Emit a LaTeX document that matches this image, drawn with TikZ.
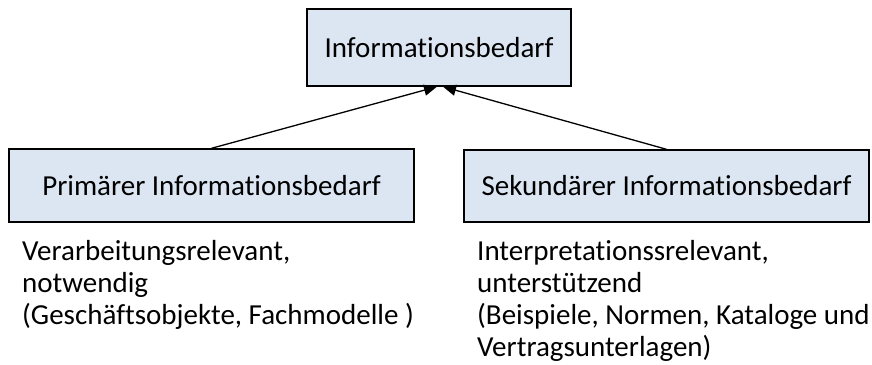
\documentclass[tikz,border=0pt]{standalone}
\usepackage{fontspec}
\setmainfont{Carlito}[Ligatures=NoCommon]
\usetikzlibrary{arrows.meta}
\definecolor{boxfill}{HTML}{DCE6F2}
\tikzset{
  x=1pt, y=-1pt,
  infobox/.style={draw=black, fill=boxfill, line width=1.4pt, rectangle,
    inner sep=0pt, font=\fontsize{29}{32}\selectfont},
  % base anchor of a multi-line note sits on its last line
  note/.style={anchor=base west, align=left, inner sep=0pt,
    font=\fontsize{29}{32}\selectfont},
  link/.style={line width=1.3pt, -{Triangle[length=13pt,width=11pt]}}
}
\begin{document}
\begin{tikzpicture}
\useasboundingbox (0,0) rectangle (872,364);
\node[infobox, minimum width=264pt, minimum height=77pt] (top) at (439,47.5) {Informationsbedarf};
\node[infobox, minimum width=405pt, minimum height=73pt] (prim) at (211.5,185.5) {Primärer Informationsbedarf};
\node[infobox, minimum width=405pt, minimum height=72pt] (sek) at (666.5,186) {Sekundärer Informationsbedarf};
\draw[link] (prim.north) -- ([xshift=-2pt]top.south);
\draw[link] (sek.north) -- ([xshift=4pt]top.south);
\node[note] (primnote) at (22,324) {Verarbeitungsrelevant,\\notwendig\\(Geschäftsobjekte, Fachmodelle )};
\node[note] (seknote) at (477,356) {Interpretationssrelevant,\\unterstützend\\(Beispiele, Normen, Kataloge und\\Vertragsunterlagen)};
\end{tikzpicture}
\end{document}
